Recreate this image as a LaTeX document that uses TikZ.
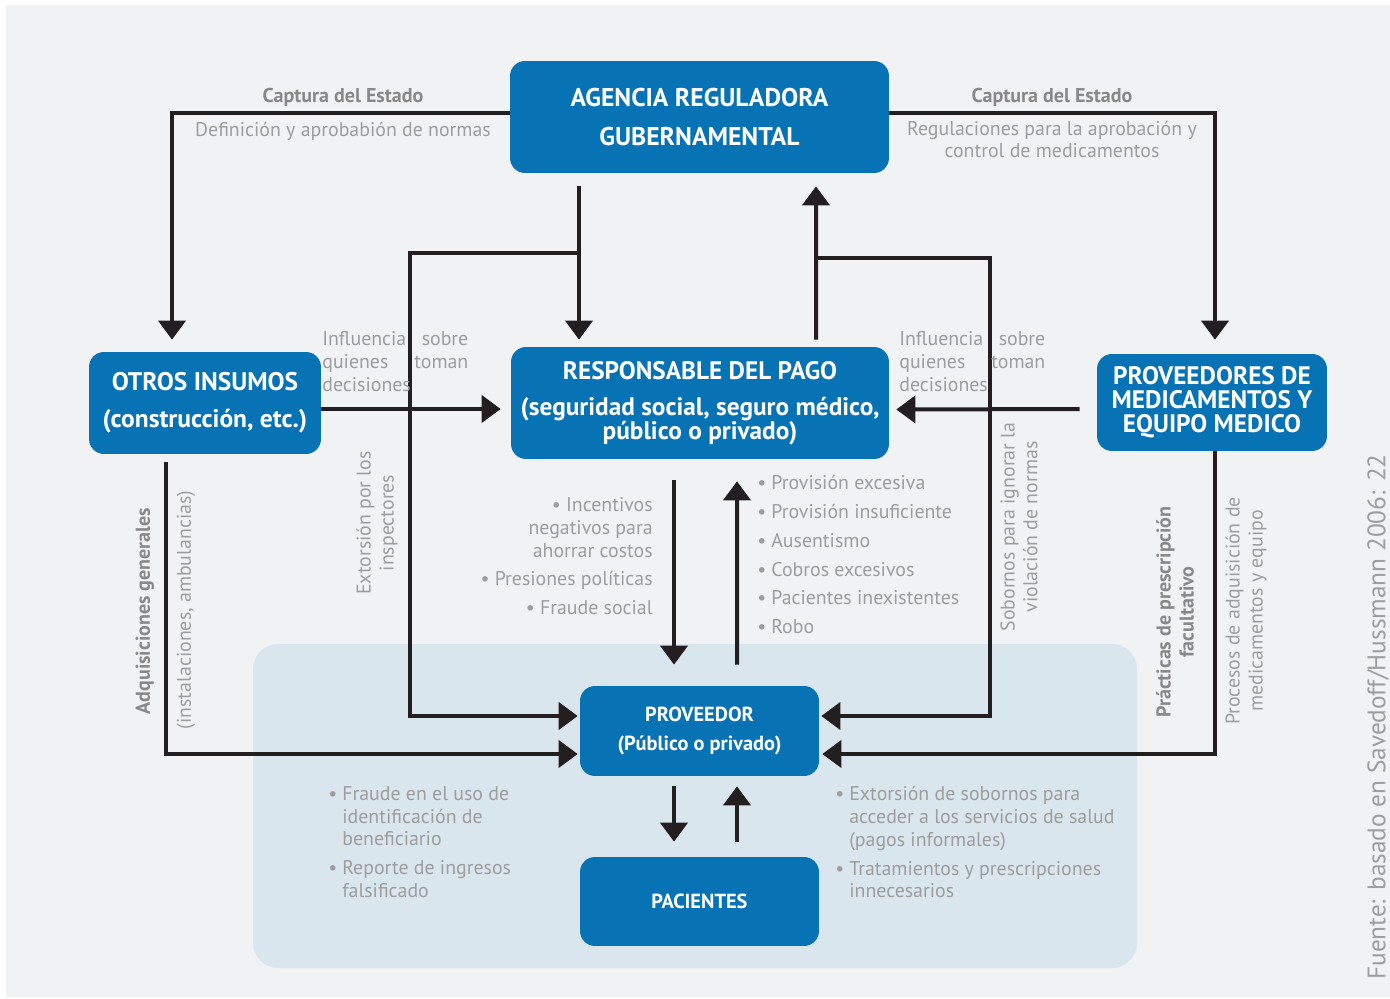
\documentclass[tikz,border=0pt]{standalone}
\usepackage{fontspec}
\setmainfont{PT Sans}
\usetikzlibrary{arrows.meta,calc}
\definecolor{govblue}{HTML}{0873B4}
\definecolor{zoneblue}{HTML}{DAE6EE}
\definecolor{bggray}{HTML}{F1F2F4}
\definecolor{notegray}{HTML}{9D9D9D}
\definecolor{headgray}{HTML}{888888}
\definecolor{arrowblack}{HTML}{231F20}
\newcommand{\bul}{\makebox[0.28cm][l]{\textbullet}}
\newcommand{\bulind}{\hspace*{0.28cm}}
\tikzset{
  flowarrow/.style={-{Triangle[length=3.8mm,width=5.4mm]}, line width=0.08cm, draw=arrowblack},
  mainbox/.style={fill=govblue, rounded corners=0.3cm, text=white, align=center,
    inner sep=0pt, font=\bfseries\fontsize{14.4}{13.6}\selectfont},
  smallbox/.style={mainbox, font=\bfseries\fontsize{11.6}{17}\selectfont},
  note/.style={text=notegray, inner sep=0pt, font=\fontsize{11.3}{13}\selectfont},
  heading/.style={text=headgray, inner sep=0pt, font=\bfseries\fontsize{11.4}{13}\selectfont},
  source/.style={text=notegray, inner sep=0pt, font=\fontsize{14.4}{16}\selectfont}
}
\begin{document}
\begin{tikzpicture}[x=0.02cm, y=-0.02cm]
    \useasboundingbox (0,0) rectangle (1390,999);
    \fill[bggray] (6,5) rectangle (1390,997);
    \fill[zoneblue, rounded corners=0.5cm] (253,644) rectangle (1137,968);

    % actors
    \node[mainbox, minimum width=7.58cm, minimum height=2.24cm,
      font=\bfseries\fontsize{14.6}{22.7}\selectfont] (ag) at (699.5,117)
      {AGENCIA REGULADORA\\GUBERNAMENTAL};
    \node[mainbox, minimum width=4.64cm, minimum height=2.04cm,
      font=\bfseries\fontsize{14.5}{21}\selectfont] (oi) at (205,403)
      {OTROS INSUMOS\\(construcción, etc.)};
    \node[mainbox, minimum width=7.56cm, minimum height=2.24cm] (rp) at (700,403)
      {RESPONSABLE DEL PAGO\\[7pt](seguridad social, seguro médico,\\público o privado)};
    \node[mainbox, minimum width=4.6cm, minimum height=1.94cm] (pm) at (1212,402.5)
      {PROVEEDORES DE\\MEDICAMENTOS Y\\EQUIPO MEDICO};
    \node[smallbox, minimum width=4.78cm, minimum height=1.8cm] (pv) at (699.5,731)
      {PROVEEDOR\\(Público o privado)};
    \node[smallbox, minimum width=4.78cm, minimum height=1.78cm] (pc) at (699.5,901.5)
      {PACIENTES};

    \coordinate (j1) at (579,253);
    \coordinate (j2) at (816,258);

    % connectors
    \draw[flowarrow, shorten >=0.24cm] ($(ag.west)+(0,-4)$) -| ($(oi.north)+(-33,0)$);
    \draw[flowarrow, shorten >=0.28cm] ($(ag.east)+(0,-4)$) -| ($(pm.north)+(3,0)$);
    \draw[flowarrow, shorten <=0.26cm, shorten >=0.14cm] ($(ag.south)+(-120.5,0)$) -- ($(rp.north)+(-121,0)$);
    \draw[flowarrow, shorten >=0.04cm] (j1) -- (410,253) |- ($(pv.west)+(0,-15)$);
    \draw[flowarrow, shorten <=0.14cm, shorten >=0.26cm] ($(rp.north)+(116,0)$) -- ($(ag.south)+(116.5,0)$);
    \draw[flowarrow, shorten >=0.04cm] (j2) -- (990,258) |- ($(pv.east)+(0,-15)$);
    \draw[flowarrow, shorten >=0.2cm] ($(oi.east)+(0,6)$) -- ($(rp.west)+(0,6)$);
    \draw[flowarrow, shorten <=0.34cm, shorten >=0.14cm] ($(pm.west)+(0,6.5)$) -- ($(rp.east)+(0,6.5)$);
    \draw[flowarrow, shorten <=0.16cm, shorten >=0.04cm] ($(oi.south)+(-39,0)$) |- ($(pv.west)+(0,23)$);
    \draw[flowarrow, shorten >=0.06cm] ($(pm.south)+(3,0)$) |- ($(pv.east)+(0,23)$);
    \draw[flowarrow, shorten <=0.42cm, shorten >=0.42cm] ($(rp.south)+(-26,0)$) -- ($(pv.north)+(-25.5,0)$);
    \draw[flowarrow, shorten <=0.42cm, shorten >=0.44cm] ($(pv.north)+(37.5,0)$) -- ($(rp.south)+(37,0)$);
    \draw[flowarrow, shorten <=0.2cm, shorten >=0.3cm] ($(pv.south)+(-25.5,0)$) -- ($(pc.north)+(-25.5,0)$);
    \draw[flowarrow, shorten <=0.3cm, shorten >=0.2cm] ($(pc.north)+(37.5,0)$) -- ($(pv.south)+(37.5,0)$);

    % labels on the links
    \node[heading] (cap1) at (343,97) {Captura del Estado};
    \node[note] (def) at (343,131) {Definición y aprobabión de normas};
    \node[heading] (cap2) at (1052,97) {Captura del Estado};
    \node[note, align=center] (reg) at (1052,139.5) {Regulaciones para la aprobación y\\control de medicamentos};
    \node[note, text width=2.92cm, align=left, anchor=base west] (inf1) at (322,346)
      {Influencia\hfill sobre\\quienes\hfill toman\\decisiones};
    \node[note, text width=2.92cm, align=left, anchor=base west] (inf2) at (899,346)
      {Influencia\hfill sobre\\quienes\hfill toman\\decisiones};
    \node[heading, rotate=90] (adq) at (145,611) {Adquisiciones generales};
    \node[note, rotate=90] (ins) at (186,610) {(instalaciones, ambulancias)};
    \node[note, rotate=90, align=center] (ext) at (377,523) {Extorsión por los\\inspectores};
    \node[note, rotate=90, align=center] (sob) at (1019,527) {Sobornos para ignorar la\\violación de normas};
    \node[heading, rotate=90, align=center] (pre) at (1175,612) {Prácticas de prescripción\\facultativo};
    \node[note, rotate=90, align=center] (pro) at (1246,611) {Procesos de adquisición de\\medicamentos y equipo};
    \node[note, align=right, anchor=north east] (neg) at (653,497)
      {\textbullet\ Incentivos\\negativos para\\ahorrar costos\\[3.4pt]\textbullet\ Presiones políticas\\[3.4pt]\textbullet\ Fraude social};
    \node[note, align=left, anchor=north west, font=\fontsize{11.3}{16.4}\selectfont] (abu) at (757,475)
      {\bul Provisión excesiva\\\bul Provisión insuficiente\\\bul Ausentismo\\\bul Cobros excesivos\\\bul Pacientes inexistentes\\\bul Robo};
    \node[note, align=left, anchor=north west] (fra) at (328,786)
      {\bul Fraude en el uso de\\\bulind identificación de\\\bulind beneficiario\\[3.4pt]\bul Reporte de ingresos\\\bulind falsificado};
    \node[note, align=left, anchor=north west] (sal) at (835,786)
      {\bul Extorsión de sobornos para\\\bulind acceder a los servicios de salud\\\bulind (pagos informales)\\[3.4pt]\bul Tratamientos y prescripciones\\\bulind innecesarios};
    \node[source, rotate=90] (src) at (1378,717) {Fuente: basado en Savedoff/Hussmann 2006: 22};
\end{tikzpicture}
\end{document}
